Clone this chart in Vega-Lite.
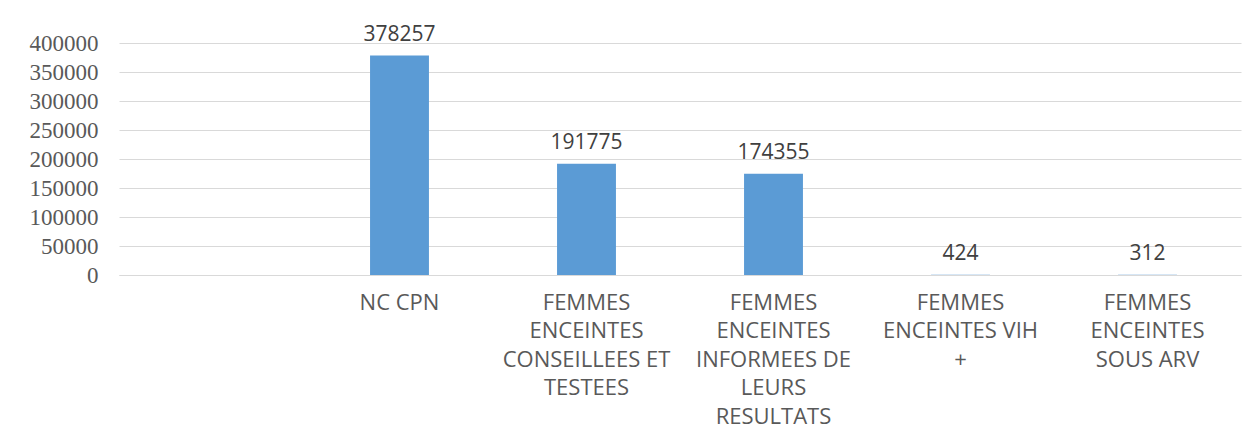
{
  "$schema": "https://vega.github.io/schema/vega-lite/v6.json",
  "width": 1122,
  "height": 232,
  "autosize": {"type": "none"},
  "padding": {"left": 119, "top": 43, "right": 17, "bottom": 164},
  "background": "white",
  "data": {
    "values": [
      {"categorie": "NC CPN", "valeur": 378257},
      {"categorie": "FEMMES ENCEINTES CONSEILLEES ET TESTEES", "valeur": 191775},
      {"categorie": "FEMMES ENCEINTES INFORMEES DE LEURS RESULTATS", "valeur": 174355},
      {"categorie": "FEMMES ENCEINTES VIH +", "valeur": 424},
      {"categorie": "FEMMES ENCEINTES SOUS ARV", "valeur": 312}
    ]
  },
  "config": {
    "view": {"stroke": null},
    "axis": {"labelColor": "#595959", "ticks": false, "title": null}
  },
  "encoding": {
    "x": {
      "field": "categorie",
      "type": "nominal",
      "sort": null,
      "scale": {
        "domain": ["", "NC CPN", "FEMMES ENCEINTES CONSEILLEES ET TESTEES", "FEMMES ENCEINTES INFORMEES DE LEURS RESULTATS", "FEMMES ENCEINTES VIH +", "FEMMES ENCEINTES SOUS ARV"],
        "paddingInner": 0,
        "paddingOuter": 0
      },
      "axis": {
        "labelAngle": 0,
        "labelFont": "Open Sans",
        "labelFontSize": 22,
        "labelLineHeight": 28.5,
        "labelPadding": 17,
        "labelBaseline": "top",
        "labelLimit": 0,
        "domainColor": "#D9D9D9",
        "domainWidth": 1,
        "labelExpr": "datum.value == 'FEMMES ENCEINTES CONSEILLEES ET TESTEES' ? ['FEMMES', 'ENCEINTES', 'CONSEILLEES ET', 'TESTEES'] : datum.value == 'FEMMES ENCEINTES INFORMEES DE LEURS RESULTATS' ? ['FEMMES', 'ENCEINTES', 'INFORMEES DE', 'LEURS', 'RESULTATS'] : datum.value == 'FEMMES ENCEINTES VIH +' ? ['FEMMES', 'ENCEINTES VIH', '+'] : datum.value == 'FEMMES ENCEINTES SOUS ARV' ? ['FEMMES', 'ENCEINTES', 'SOUS ARV'] : datum.value"
      }
    },
    "y": {
      "field": "valeur",
      "type": "quantitative",
      "scale": {"domain": [0, 400000], "nice": false},
      "axis": {
        "values": [0, 50000, 100000, 150000, 200000, 250000, 300000, 350000, 400000],
        "format": "d",
        "domain": false,
        "grid": true,
        "gridColor": "#D9D9D9",
        "gridWidth": 1,
        "labelFont": "Liberation Serif",
        "labelFontSize": 23,
        "labelPadding": 21
      }
    }
  },
  "layer": [
    {
      "mark": {"type": "bar", "color": "#5B9BD5", "width": {"band": 0.315}}
    },
    {
      "mark": {"type": "text", "font": "Open Sans", "fontSize": 21, "color": "#404040", "baseline": "alphabetic", "dy": -15},
      "encoding": {"text": {"field": "valeur", "type": "quantitative", "format": "d"}}
    }
  ]
}
